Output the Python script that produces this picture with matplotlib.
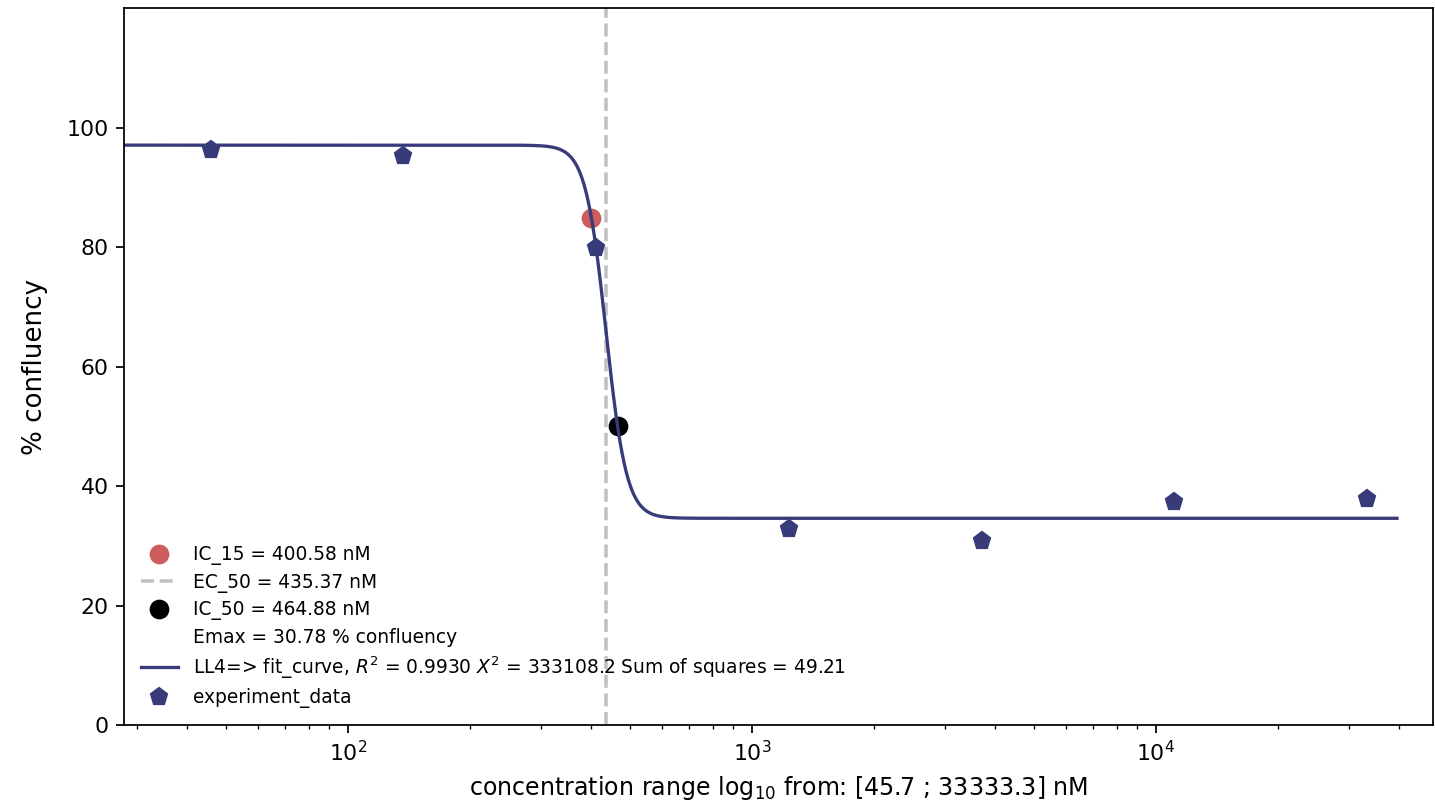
import numpy as np
import matplotlib
matplotlib.use("Agg")
import matplotlib.pyplot as plt

# experiment data (nM, % confluency)
conc = [45.7, 137.2, 411.5, 1234.6, 3703.7, 11111.1, 33333.3]
confluency = [96.3, 95.2, 79.9, 32.8, 30.8, 37.4, 37.8]

# LL4 fit parameters
top = 97.05
bottom = 34.6
ec50 = 435.37
hill = 17.0

ic15 = 400.58
ic50 = 464.88
emax = 30.78

navy = "#383b79"

def ll4(x):
    return bottom + (top - bottom) / (1 + (x / ec50) ** hill)

fig = plt.figure(figsize=(1435 / 158, 809 / 158), dpi=158)
ax = fig.add_axes([0.0864, 0.1038, 0.9122, 0.8863])

x_fit = np.logspace(np.log10(27.0), np.log10(39500), 600)

ax.plot([ic15], [ll4(ic15)], "o", color="indianred", markersize=8, label="IC_15 = %.2f nM" % ic15)
ax.axvline(ec50, color="#c0c0c0", linestyle="--", linewidth=1.6, label="EC_50 = %.2f nM" % ec50)
ax.plot([ic50], [50], "o", color="black", markersize=8, label="IC_50 = %.2f nM" % ic50)
ax.plot([], [], " ", label="Emax = %.2f %% confluency" % emax)
ax.plot(x_fit, ll4(x_fit), color=navy, linewidth=1.5,
        label=r"LL4=> fit_curve, $R^2$ = 0.9930 $X^2$ = 333108.2 Sum of squares = 49.21")
ax.plot(conc, confluency, "p", color=navy, markersize=8, linestyle="none", label="experiment_data")

ax.set_xscale("log")
ax.set_xlim(27.9, 48500)
ax.set_ylim(0, 120)
ax.set_yticks([0, 20, 40, 60, 80, 100])
ax.set_xlabel(r"concentration range log$_{10}$ from: [45.7 ; 33333.3] nM", fontsize=10.8)
ax.set_ylabel("% confluency", fontsize=11.9, labelpad=8.5)
ax.legend(loc="lower left", frameon=False, fontsize=8.5, labelspacing=0.4)

fig.savefig("out.png", dpi=158)
